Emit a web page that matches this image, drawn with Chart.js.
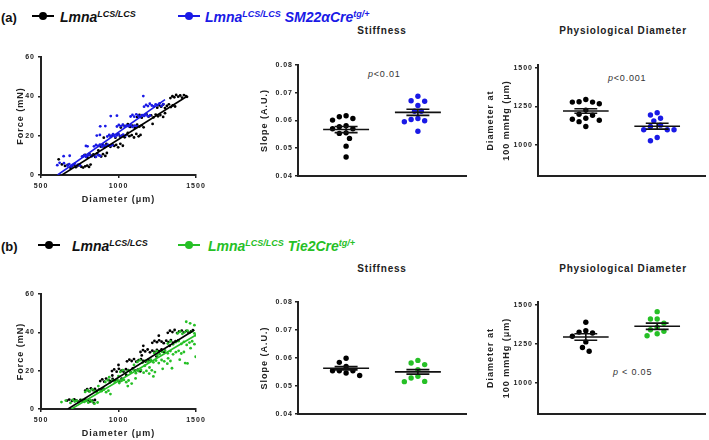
<!DOCTYPE html>
<html>
<head>
<meta charset="utf-8">
<title>Lmna LCS/LCS vessels</title>
<script src="https://cdn.jsdelivr.net/npm/chart.js@4.4.1/dist/chart.umd.min.js"></script>
<style>
  body { margin: 0; background: #fff; font-family: Arial, "Liberation Sans", sans-serif; }
  #page { position: relative; width: 709px; height: 440px; overflow: hidden; }
  .plot { position: absolute; }
  .txt { position: absolute; white-space: nowrap; color: #111; line-height: 16px; }
  .panel { font: bold 13px Arial, "Liberation Sans", sans-serif; }
  .leg { font: italic bold 14px Arial, "Liberation Sans", sans-serif; }
  .leg span { position: relative; top: -5px; font-size: 9px; }
  .mk { position: absolute; width: 22px; height: 2px; }
  .mk::after { content: ''; position: absolute; left: 7px; top: -3px; width: 8px; height: 8px; border-radius: 50%; background: inherit; }
  .ttl { font: bold 10px Arial, "Liberation Sans", sans-serif; letter-spacing: 0.8px; transform: translateX(-50%); color: #222; }
  .pval { font: 9px Arial, "Liberation Sans", sans-serif; letter-spacing: 0.8px; color: #333; }
</style>
</head>
<body>
<div id="page">
  <!-- panel (a) -->
  <div class="txt panel" style="left:1px;top:10px">(a)</div>
  <div class="mk" style="left:32px;top:15px;background:#000"></div>
  <div class="txt leg" style="left:60px;top:9px">Lmna<span>LCS/LCS</span></div>
  <div class="mk" style="left:178px;top:15px;background:#1a1ae6"></div>
  <div class="txt leg" style="left:205px;top:9px;color:#1a1ae6">Lmna<span>LCS/LCS</span> SM22αCre<span>tg/+</span></div>
  <div class="txt ttl" style="left:382px;top:25px">Stiffness</div>
  <div class="txt ttl" style="left:623px;top:25px">Physiological Diameter</div>
  <div class="txt pval" style="left:368px;top:69px"><i>p</i>&lt;0.01</div>
  <div class="txt pval" style="left:608px;top:73px"><i>p</i>&lt;0.001</div>
  <div class="plot" style="left:0;top:50px"><canvas id="forceA" width="215" height="156"></canvas></div>
  <div class="plot" style="left:230px;top:40px"><canvas id="stiffA" width="240" height="142"></canvas></div>
  <div class="plot" style="left:470px;top:40px"><canvas id="diamA" width="239" height="142"></canvas></div>

  <!-- panel (b) -->
  <div class="txt panel" style="left:1px;top:239px">(b)</div>
  <div class="mk" style="left:38px;top:244px;background:#000"></div>
  <div class="txt leg" style="left:72px;top:238px">Lmna<span>LCS/LCS</span></div>
  <div class="mk" style="left:178px;top:244px;background:#26c026"></div>
  <div class="txt leg" style="left:208px;top:238px;color:#26c026">Lmna<span>LCS/LCS</span> Tie2Cre<span>tg/+</span></div>
  <div class="txt ttl" style="left:382px;top:263px">Stiffness</div>
  <div class="txt ttl" style="left:623px;top:263px">Physiological Diameter</div>
  <div class="txt pval" style="left:613px;top:367px"><i>p</i> &lt; 0.05</div>
  <div class="plot" style="left:0;top:287px"><canvas id="forceB" width="215" height="153"></canvas></div>
  <div class="plot" style="left:230px;top:277px"><canvas id="stiffB" width="240" height="143"></canvas></div>
  <div class="plot" style="left:470px;top:277px"><canvas id="diamB" width="239" height="143"></canvas></div>
</div>

<script>
// ---- data: force vs diameter, [diameter µm, force mN] ----
const forceA_ctrl = [
  [614,8],[635,5.4],[655,4.6],[672,5.2],[690,3.7],[700,4.5],[712,5.2],[725,4],[735,4.6],[748,5],[760,4.2],[772,3.8],[785,4.4],[798,4.8],[810,4.1],[820,5.3],
  [770,9.5],[785,10.2],[798,9],[812,10.8],[825,9.8],[838,10.5],[850,9.2],[862,11],[875,10],[888,9.4],[900,10.6],[915,9.7],[925,11.2],[870,12.5],
  [885,14.5],[898,15.4],[910,14.2],[922,15.8],[935,15],[948,14.4],[960,15.6],[972,14.8],[985,15.3],[998,14.1],[1012,15.9],[1028,14.9],
  [905,19],[950,19.4],[965,20.5],[980,19],[995,20.8],[1010,19.6],[1025,20.2],[1040,19.2],[1055,20.6],[1070,19.8],[1085,20.3],[1100,19.1],[1115,20.9],[1130,19.7],[1142,20.4],[1060,21.5],
  [1015,24.2],[1030,25.4],[1045,24.8],[1060,25.9],[1075,24.5],[1090,25.1],[1105,24],[1120,25.6],[1135,24.7],[1150,25.3],[1162,24.3],[1220,26],
  [1120,29.5],[1135,30.6],[1150,29.2],[1165,30.2],[1180,31],[1195,29.8],[1210,30.4],[1225,29.3],[1240,30.8],[1255,29.9],[1270,30.5],[1288,29.6],[1300,31.5],
  [1250,34.3],[1262,35.5],[1275,34.8],[1288,35.9],[1300,34.1],[1312,35.2],[1325,36],[1338,34.6],[1350,35.4],[1365,34.9],
  [1335,39.2],[1348,40.1],[1360,39.6],[1372,40.8],[1385,39.9],[1398,40.5],[1410,39.4],[1422,40.7],[1435,40.2],[1442,39.8]
];
const forceA_mut = [
  [605,5],[620,6.2],[648,6],[670,4.8],[682,5.5],[695,4.3],[705,5.1],[718,5.8],[728,4.6],[740,5.3],[752,4.9],[646,9.6],[685,9.8],
  [765,9.4],[778,10.1],[790,9.2],[802,9.9],[815,10.3],[828,9.5],[840,10],[855,9.3],[870,10.2],[882,9.7],
  [790,14.8],[800,14.6],[842,14.6],[855,15.3],[868,14.8],[880,15.5],[893,14.4],[905,15.1],[918,14.7],[930,15.4],[945,14.9],[960,15.2],
  [860,20.1],[880,20.4],[928,19.6],[940,20.4],[952,19.9],[965,20.8],[978,19.5],[990,20.2],[1002,20.7],[1015,19.8],[1030,20.5],[1045,20.1],
  [882,24.8],[915,24.9],[990,24.7],[1002,25.5],[1015,24.9],[1028,25.6],[1040,24.6],[1052,25.2],[1065,24.8],[1078,25.4],[1090,24.5],[1105,25.1],[1118,24.9],
  [950,30],[990,30.2],[1078,29.8],[1090,30.6],[1102,29.7],[1115,30.9],[1128,30.2],[1140,29.6],[1152,30.5],[1165,30.1],[1178,30.8],[1190,29.9],[1203,30.3],
  [1165,34.8],[1178,35.7],[1190,35.1],[1202,36.3],[1215,35.4],[1228,34.9],[1240,36],[1252,35.6],[1265,36.5],[1278,35.2],[1290,36.1],
  [1160,40.2]
];
const forceB_ctrl = [
  [668,4.4],[682,4.9],[700,4.2],[715,5],[728,4.5],[742,3.9],[755,4.8],[770,4.3],[785,5.1],[800,4.6],[815,3.9],[832,4.4],[848,4.7],[841,3.1],
  [785,9.6],[798,10.4],[810,9.3],[822,10.8],[835,9.9],[848,10.5],[860,9.4],[875,10.1],[890,9.7],[903,10.6],
  [882,14.6],[895,15.5],[908,14.3],[920,15.9],[935,15.1],[948,14.5],[962,15.7],[975,14.9],[990,15.4],[1005,14.2],[1020,15.8],[960,17.5],
  [958,19.8],[972,20.7],[988,19.5],[1002,21],[1018,20.1],[1032,19.6],[1048,20.8],[1062,20.3],[1078,19.4],[1092,21.2],[1108,20],[1125,20.6],[1140,19.7],[1000,23],[1050,17.8],
  [1055,24.9],[1070,25.8],[1085,25.1],[1100,26.1],[1115,24.7],[1130,25.5],[1145,26],[1160,25.2],[1175,24.8],[1192,25.7],[1207,25.3],[1150,28],
  [1142,29.8],[1158,30.8],[1172,30.1],[1188,31.1],[1203,29.6],[1218,30.5],[1232,29.9],[1248,30.9],[1262,30.3],[1278,31.2],[1295,29.7],[1160,33],[1245,27.5],
  [1218,34.6],[1232,35.6],[1248,34.9],[1262,35.9],[1278,35.2],[1292,34.4],[1308,35.7],[1322,35],[1338,36],[1352,34.7],[1368,35.4],[1385,35.8],[1260,38.3],[1330,33],
  [1318,39.8],[1332,40.9],[1348,40.2],[1362,41.3],[1378,39.7],[1392,40.6],[1408,41],[1422,40.1],[1438,40.8],[1452,39.9],[1468,40.5],[1480,41.2]
];
const forceB_mut = [
  [632,3.6],[660,4.4],[690,3.2],[705,4.7],[718,3.9],[730,4.4],[742,3.5],[755,4.1],[768,4.8],[780,3.7],[792,4.3],[805,3.3],[818,4.6],[830,3.9],[845,2.8],[865,3.4],
  [785,8.9],[800,9.8],[815,9.2],[830,10.3],[845,9.5],[860,8.6],[875,9.9],[890,9.3],[905,10.1],[920,8.8],[935,9.6],[948,7.8],[870,12],
  [915,14.1],[930,15.1],[945,13.8],[960,14.8],[975,14.3],[990,15.4],[1005,13.6],[1020,14.7],[1035,15.2],[1050,14],[1065,14.9],[1085,13.3],[1000,17.2],[1060,12],[940,16.6],
  [1012,19.4],[1028,20.3],[1045,18.9],[1062,20.1],[1078,19.2],[1095,20.6],[1112,18.7],[1128,19.8],[1145,20.4],[1162,19],[1180,19.9],[1198,18.5],[1215,20.2],[1235,19.3],[1110,16],[1170,22.6],[1225,17],[1100,23],
  [1122,24.6],[1138,25.5],[1155,24.2],[1172,25.2],[1190,24.8],[1208,25.8],[1225,24.4],[1242,25.3],[1260,24],[1278,25.6],[1295,24.9],[1315,23.7],[1335,25.1],[1200,21.7],[1285,21],[1345,21.3],[1250,28],
  [1230,29.3],[1248,30.2],[1265,28.8],[1282,29.9],[1300,30.6],[1318,29.1],[1335,30.3],[1352,28.6],[1370,29.7],[1388,30.4],[1405,29],[1422,29.8],[1320,26.5],[1395,25.8],[1430,24],
  [1318,34.2],[1335,35.3],[1352,33.8],[1370,34.9],[1388,35.5],[1405,34],[1422,35.1],[1440,33.5],[1458,34.7],[1475,35.4],[1490,33.9],[1498,27.3],[1465,31.8],[1445,23.8],
  [1382,39.6],[1398,40.5],[1412,39.3],[1428,40.2],[1445,41],[1460,39.8],[1475,40.6],[1490,39.5],[1500,38.5],[1437,45.6],[1462,44.8],[1490,43.8]
];
// linear fits, endpoints [diameter, force]
const fitA_ctrl = [[635,0],[1440,40]];
const fitA_mut = [[607,0],[1300,38.4]];
const fitB_ctrl = [[674,0],[1489,41.3]];
const fitB_mut = [[696,0],[1500,38.7]];

// ---- data: per-animal values ----
const stiffA_ctrl = [0.0613,0.0601,0.0607,0.0617,0.0581,0.0570,0.0570,0.0577,0.0555,0.0553,0.0535,0.0507,0.0468];
const stiffA_mut = [0.0687,0.0669,0.0671,0.0654,0.0633,0.0633,0.0607,0.0599,0.0595,0.0603,0.0561];
const diamA_ctrl = [1296,1279,1268,1279,1281,1227,1193,1200,1167,1161,1152,1174,1120];
const diamA_mut = [1195,1210,1174,1157,1120,1129,1099,1099,1099,1049,1028];
const stiffB_ctrl = [0.0599,0.0584,0.0569,0.0554,0.0554,0.0554,0.0546,0.0537];
const stiffB_mut = [0.0591,0.0576,0.0582,0.0558,0.0528,0.0534,0.0515,0.0516];
const diamB_ctrl = [1390,1335,1320,1326,1299,1263,1227,1203];
const diamB_mut = [1458,1411,1411,1383,1358,1341,1331,1303,1316];
// mean and SEM, [ctrl, mutant]
const stiffA_mean = [0.0567, 0.0629], stiffA_sem = [0.0011, 0.0011];
const diamA_mean = [1221, 1122], diamA_sem = [15, 19];
const stiffB_mean = [0.0563, 0.0550], stiffB_sem = [0.0006, 0.0008];
const diamB_mean = [1295, 1364], diamB_sem = [21, 20];

const BLACK = '#000';
const BLUE = '#1a1ae6';
const GREEN = '#26c026';
const INK = '#222';

Chart.defaults.font.family = 'Arial, "Liberation Sans", sans-serif';
Chart.defaults.color = INK;
Chart.defaults.animation = false;

const tickFont = { size: 7, weight: 'bold' };
const axisTitleFont = { size: 9, weight: 'bold' };

// Prism style text is spaced out
const spacing = {
  id: 'spacing',
  beforeDraw(chart) { chart.ctx.letterSpacing = '1px'; }
};

// mean line + SEM whiskers over the dots
const meanSem = {
  id: 'meanSem',
  afterDatasetsDraw(chart, args, opts) {
    const { ctx, scales: { x, y } } = chart;
    ctx.save();
    ctx.strokeStyle = '#111';
    ctx.lineWidth = 1.6;
    opts.means.forEach((m, i) => {
      const cx = x.getPixelForValue(i + 1);
      const half = x.getPixelForValue(i + 1.32) - cx;
      const cap = half / 2;
      const ym = y.getPixelForValue(m);
      const yHi = y.getPixelForValue(m + opts.sems[i]);
      const yLo = y.getPixelForValue(m - opts.sems[i]);
      ctx.beginPath();
      ctx.moveTo(cx - half, ym); ctx.lineTo(cx + half, ym);
      ctx.moveTo(cx - cap, yHi); ctx.lineTo(cx + cap, yHi);
      ctx.moveTo(cx - cap, yLo); ctx.lineTo(cx + cap, yLo);
      ctx.moveTo(cx, yHi); ctx.lineTo(cx, yLo);
      ctx.stroke();
    });
    ctx.restore();
  }
};

const toXY = pairs => pairs.map(p => ({ x: p[0], y: p[1] }));

function axisLine() {
  return { color: INK, width: 2 };
}

function forceChart(id, ctrl, mut, mutColor, fitCtrl, fitMut) {
  new Chart(document.getElementById(id), {
    type: 'scatter',
    data: {
      datasets: [
        { type: 'line', data: toXY(fitCtrl), borderColor: BLACK, borderWidth: 1.6, pointRadius: 0, fill: false },
        { type: 'line', data: toXY(fitMut), borderColor: mutColor, borderWidth: 1.6, pointRadius: 0, fill: false },
        { data: toXY(mut), backgroundColor: mutColor, pointRadius: 1.4, borderWidth: 0 },
        { data: toXY(ctrl), backgroundColor: BLACK, pointRadius: 1.4, borderWidth: 0 }
      ]
    },
    options: {
      responsive: false,
      layout: { padding: { top: 7, right: 19, bottom: 0, left: 0 } },
      plugins: { legend: { display: false }, tooltip: { enabled: false } },
      scales: {
        x: {
          type: 'linear', min: 500, max: 1500,
          ticks: { stepSize: 500, font: tickFont, color: INK, padding: 4, callback: v => String(v) },
          grid: { drawOnChartArea: false, tickLength: 3, color: INK, lineWidth: 1.5 },
          border: axisLine(),
          title: { display: true, text: 'Diameter (μm)', font: axisTitleFont, color: INK, padding: { top: 0, bottom: 1 } },
          afterFit: s => { s.height = 31; }
        },
        y: {
          min: 0, max: 60,
          ticks: { stepSize: 20, font: tickFont, color: INK, padding: 3, callback: v => String(v) },
          grid: { drawOnChartArea: false, tickLength: 3, color: INK, lineWidth: 1.5 },
          border: axisLine(),
          title: { display: true, text: 'Force (mN)', font: axisTitleFont, color: INK, padding: { top: 15 } },
          afterFit: s => { s.width = 41; }
        }
      }
    },
    plugins: [spacing]
  });
}

// spread equal values sideways, like a column scatter
function swarm(values, group, pxPerVal) {
  const order = values.map((v, i) => i).sort((a, b) => values[b] - values[a]);
  const placed = [];
  const out = [];
  order.forEach(i => {
    const py = values[i] * pxPerVal;
    let dx = 0;
    for (let k = 0; k < 16; k++) {
      const cand = (k % 2 ? -1 : 1) * Math.ceil(k / 2) * 3.4;
      if (placed.every(p => Math.hypot(p.dx - cand, p.py - py) >= 6.4)) { dx = cand; break; }
    }
    placed.push({ dx, py });
    out[i] = { x: group + dx / 72, y: values[i] };
  });
  return out;
}

function dotChart(id, groups, colors, means, sems, y) {
  new Chart(document.getElementById(id), {
    type: 'scatter',
    data: {
      datasets: groups.map((vals, g) => ({
        data: swarm(vals, g + 1, y.pxPerVal),
        backgroundColor: colors[g], pointRadius: 2.7, borderWidth: 0
      }))
    },
    options: {
      responsive: false,
      layout: { padding: { top: 25, right: y.right, bottom: 5, left: 0 } },
      plugins: { legend: { display: false }, tooltip: { enabled: false }, meanSem: { means, sems } },
      scales: {
        x: {
          type: 'linear', min: 0.33, max: 2.67,
          ticks: { display: false },
          grid: { display: false, drawTicks: false },
          border: axisLine(),
          afterFit: s => { s.height = 0; }
        },
        y: {
          min: y.min, max: y.max,
          ticks: { stepSize: y.step, font: tickFont, color: INK, padding: 2, callback: y.format },
          afterBuildTicks: y.ticks ? (s => { s.ticks = y.ticks.map(v => ({ value: v })); }) : undefined,
          grid: { drawOnChartArea: false, tickLength: 3, color: INK, lineWidth: 1.5 },
          border: axisLine(),
          title: { display: true, text: y.title, font: { size: 9, weight: 'bold', lineHeight: 16 / 9 }, color: INK, padding: { top: y.titlePad } },
          afterFit: s => { s.width = 68; }
        }
      }
    },
    plugins: [spacing, meanSem]
  });
}

const slopeAxis = { min: 0.04, max: 0.08, step: 0.01, format: v => v.toFixed(2), title: 'Slope (A.U.)', titlePad: 27, pxPerVal: 2790, right: 3 };
const diamTicks = [1000, 1250, 1500];
const diamAxis = { min: 800, max: 1520, ticks: diamTicks, format: v => String(v), title: ['Diameter at', '100 mmHg (μm)'], titlePad: 13, pxPerVal: 0.155, right: 2 };

forceChart('forceA', forceA_ctrl, forceA_mut, BLUE, fitA_ctrl, fitA_mut);
dotChart('stiffA', [stiffA_ctrl, stiffA_mut], [BLACK, BLUE], stiffA_mean, stiffA_sem, slopeAxis);
dotChart('diamA', [diamA_ctrl, diamA_mut], [BLACK, BLUE], diamA_mean, diamA_sem, diamAxis);

forceChart('forceB', forceB_ctrl, forceB_mut, GREEN, fitB_ctrl, fitB_mut);
dotChart('stiffB', [stiffB_ctrl, stiffB_mut], [BLACK, GREEN], stiffB_mean, stiffB_sem, slopeAxis);
dotChart('diamB', [diamB_ctrl, diamB_mut], [BLACK, GREEN], diamB_mean, diamB_sem, diamAxis);
</script>
</body>
</html>
